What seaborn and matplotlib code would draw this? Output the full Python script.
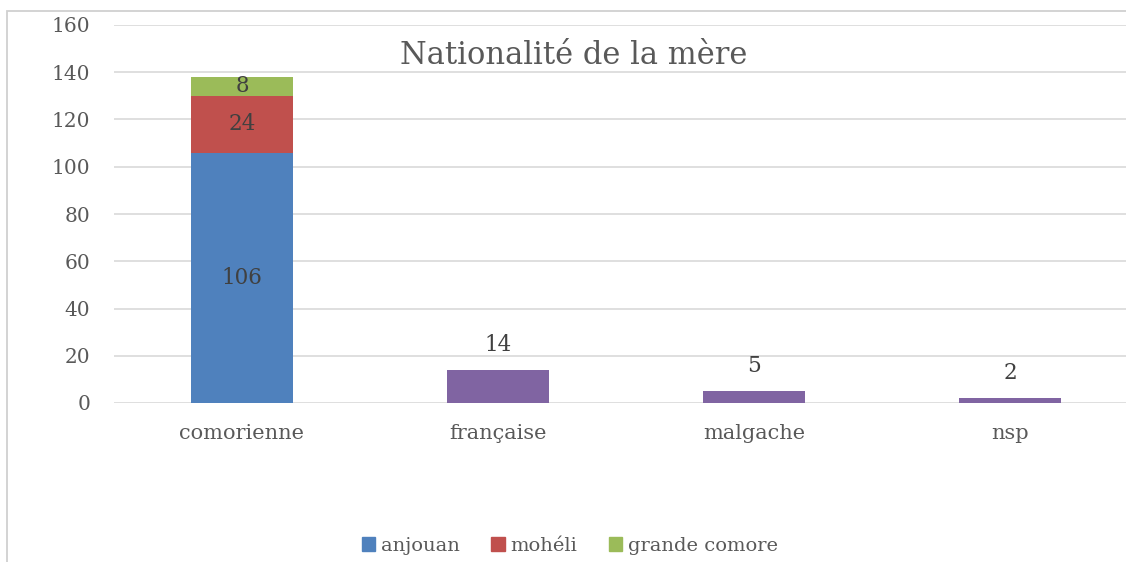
import matplotlib
matplotlib.use('Agg')
import matplotlib.pyplot as plt
import matplotlib.patches as mpatches
import seaborn as sns
import pandas as pd

categories = ['comorienne', 'française', 'malgache', 'nsp']
anjouan = [106, 0, 0, 0]
moheli = [24, 0, 0, 0]
grande_comore = [8, 0, 0, 0]
autre = [0, 14, 5, 2]

series_names = ['anjouan', 'mohéli', 'grande comore', 'autre']
series_values = [anjouan, moheli, grande_comore, autre]
colors = ['#4F81BD', '#C0504D', '#9BBB59', '#8064A2']
in_legend = [True, True, True, False]

sns.set_theme(style='white')
plt.rcParams['font.family'] = ['DejaVu Serif']
text_col = '#595959'
label_col = '#404040'

df = pd.DataFrame({'categorie': categories})
bottoms = [0] * len(categories)
layers = []
for name, vals in zip(series_names, series_values):
    top = [b + v for b, v in zip(bottoms, vals)]
    layers.append((name, vals, list(bottoms), top))
    bottoms = top

fig = plt.figure(figsize=(11.26, 5.62), dpi=100)
ax = fig.add_axes([114 / 1126, 159 / 562, 1024 / 1126, 378 / 562])

# stacked bars: draw cumulative totals from top layer down
for (name, vals, bot, top), col in reversed(list(zip(layers, colors))):
    d = df.assign(total=top)
    sns.barplot(data=d, x='categorie', y='total', order=categories, color=col,
                width=0.4, linewidth=0, saturation=1, ax=ax)

# data labels
for (name, vals, bot, top), is_stack in zip(layers, in_legend):
    for i, v in enumerate(vals):
        if v <= 0:
            continue
        if is_stack:
            ax.text(i, bot[i] + v / 2, str(v), ha='center', va='center',
                    fontsize=15.5, color=label_col)
        else:
            ax.annotate(str(v), (i, top[i]), xytext=(0, 10), textcoords='offset points',
                        ha='center', va='bottom', fontsize=15.5, color=label_col)

ax.set_ylim(0, 160)
ax.set_xlim(-0.5, 3.5)
ax.set_yticks(range(0, 161, 20))
ax.yaxis.grid(True, color='#d9d9d9', lw=1.2)
ax.set_axisbelow(True)
for s in ax.spines.values():
    s.set_visible(False)
ax.set_xlabel('')
ax.set_ylabel('')
ax.tick_params(axis='y', length=0, pad=17, labelsize=14.5, labelcolor=text_col)
ax.tick_params(axis='x', length=0, pad=15, labelsize=15, labelcolor=text_col)

fig.text(574 / 1126, (562 - 56) / 562, 'Nationalité de la mère', ha='center',
         va='center', fontsize=22, color=text_col)

handles = [mpatches.Patch(color=c, label=n)
           for n, c, keep in zip(series_names, colors, in_legend) if keep]
fig.legend(handles=handles, loc='center', bbox_to_anchor=(570 / 1126, 16 / 562),
           ncol=3, frameon=False, fontsize=14, handlelength=0.7, handleheight=0.7,
           handletextpad=0.3, columnspacing=1.6, labelcolor=text_col)

frame = mpatches.Rectangle((7 / 1126, -0.1), 2, (551 / 562) + 0.1, transform=fig.transFigure,
                           fill=False, edgecolor='#d0d0d0', lw=1.3)
fig.add_artist(frame)

fig.savefig('out.png', dpi=100)
